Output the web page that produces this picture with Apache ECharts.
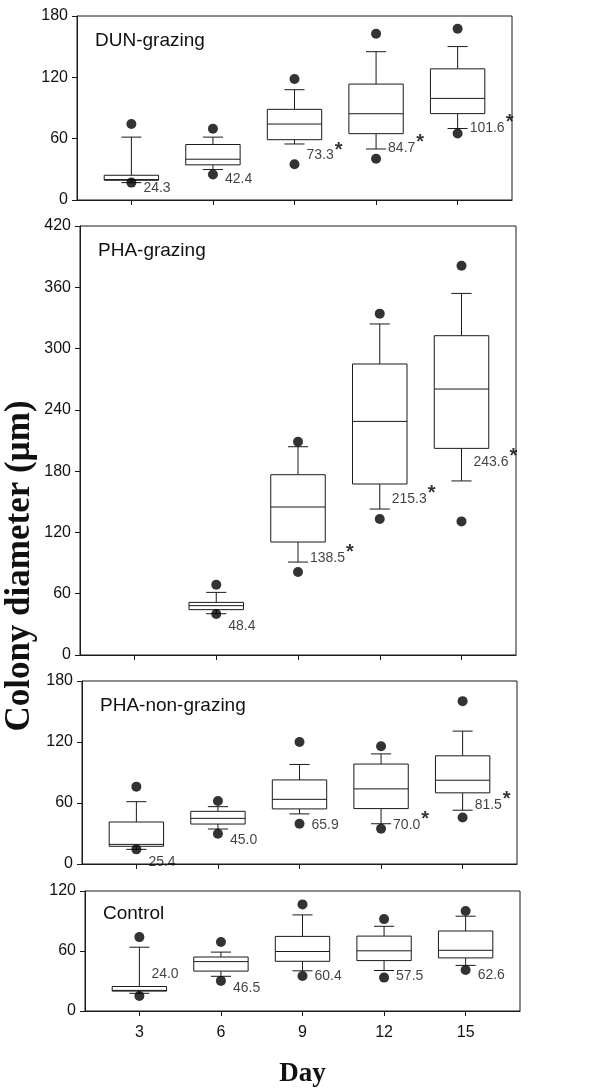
<!DOCTYPE html>
<html>
<head>
<meta charset="utf-8">
<script src="https://cdn.jsdelivr.net/npm/echarts@6/dist/echarts.min.js"></script>
<style>
  html, body { margin: 0; padding: 0; background: #fff; }
  #chart { width: 612px; height: 1089px; }
</style>
</head>
<body>
<div id="chart"></div>
<script>
// Sampling days (x categories)
const days = [3, 6, 9, 12, 15];

// DUN-grazing
const dunWhiskLo = [17.0, 29.8, 54.8, 49.9, 69.9];
const dunQ1      = [19.3, 34.4, 59.0, 64.9, 84.5];
const dunMedian  = [20.0, 39.9, 74.3, 84.4, 99.4];
const dunQ3      = [24.2, 54.3, 88.7, 113.4, 128.3];
const dunWhiskHi = [61.5, 61.5, 107.9, 145.1, 150.1];
const dunDotLo   = [17.0, 24.9, 34.9, 40.4, 65.0];
const dunDotHi   = [74.3, 69.7, 118.3, 162.7, 167.6];
const dunMean    = [24.3, 42.4, 73.3, 84.7, 101.6];
const dunSig     = [false, false, true, true, true];
const dunLabelAt = [12, 20.5, 43.5, 50.5, 70.5];

// PHA-grazing (no colonies measured on day 3)
const phaWhiskLo = [null, 40.4, 91.0, 142.9, 170.4];
const phaQ1      = [null, 44.4, 110.6, 167.4, 202.3];
const phaMedian  = [null, 48.3, 144.9, 228.7, 260.4];
const phaQ3      = [null, 51.5, 176.5, 284.9, 312.6];
const phaWhiskHi = [null, 61.3, 203.9, 324.1, 354.0];
const phaDotLo   = [null, 40.1, 81.3, 133.1, 130.8];
const phaDotHi   = [null, 68.8, 208.8, 334.2, 381.1];
const phaMean    = [null, 48.4, 138.5, 215.3, 243.6];
const phaSig     = [false, false, true, true, true];
const phaLabelAt = [null, 28, 94.5, 152.5, 189];

// PHA-non-grazing
const nonWhiskLo = [14.4, 34.4, 49.3, 39.6, 52.9];
const nonQ1      = [17.4, 39.3, 54.2, 54.5, 70.0];
const nonMedian  = [19.3, 44.9, 63.6, 73.9, 82.4];
const nonQ3      = [41.3, 51.8, 82.7, 98.3, 106.4];
const nonWhiskHi = [61.3, 56.4, 97.9, 108.3, 130.7];
const nonDotLo   = [14.4, 29.8, 39.6, 34.7, 45.7];
const nonDotHi   = [76.1, 62.0, 120.0, 115.8, 160.2];
const nonMean    = [25.4, 45.0, 65.9, 70.0, 81.5];
const nonSig     = [false, false, false, true, true];
const nonLabelAt = [2, 23, 38, 38, 58];

// Control
const ctlWhiskLo = [17.7, 34.7, 40.2, 40.5, 45.6];
const ctlQ1      = [19.9, 39.9, 49.7, 50.4, 53.1];
const ctlMedian  = [20.6, 49.4, 59.5, 60.2, 60.7];
const ctlQ3      = [24.5, 54.0, 74.6, 74.9, 80.0];
const ctlWhiskHi = [63.8, 58.9, 96.1, 84.7, 94.8];
const ctlDotLo   = [15.0, 30.1, 35.0, 33.4, 41.0];
const ctlDotHi   = [73.9, 69.0, 106.6, 91.9, 100.0];
const ctlMean    = [24.0, 46.5, 60.4, 57.5, 62.6];
const ctlSig     = [false, false, false, false, false];
const ctlLabelAt = [36.5, 23, 35, 35, 36];

const panelNames = ['DUN-grazing', 'PHA-grazing', 'PHA-non-grazing', 'Control'];
const yMax = [180, 420, 180, 120];
const yStep = 60;

const panels = [
  { lo: dunWhiskLo, q1: dunQ1, med: dunMedian, q3: dunQ3, hi: dunWhiskHi, dLo: dunDotLo, dHi: dunDotHi, mean: dunMean, sig: dunSig, at: dunLabelAt },
  { lo: phaWhiskLo, q1: phaQ1, med: phaMedian, q3: phaQ3, hi: phaWhiskHi, dLo: phaDotLo, dHi: phaDotHi, mean: phaMean, sig: phaSig, at: phaLabelAt },
  { lo: nonWhiskLo, q1: nonQ1, med: nonMedian, q3: nonQ3, hi: nonWhiskHi, dLo: nonDotLo, dHi: nonDotHi, mean: nonMean, sig: nonSig, at: nonLabelAt },
  { lo: ctlWhiskLo, q1: ctlQ1, med: ctlMedian, q3: ctlQ3, hi: ctlWhiskHi, dLo: ctlDotLo, dHi: ctlDotHi, mean: ctlMean, sig: ctlSig, at: ctlLabelAt }
];

// Plot rectangles of the four stacked panels
const grids = [
  { left: 77, top: 16,  width: 435, height: 184 },
  { left: 80, top: 226, width: 436, height: 429 },
  { left: 82, top: 681, width: 435, height: 183 },
  { left: 85, top: 891, width: 435, height: 122 }
];

const INK = '#1a1a1a';
const SANS = '"Liberation Sans", Arial, sans-serif';
const SERIF = '"Liberation Serif", "Times New Roman", serif';

function renderBox(params, api) {
  const day = api.value(0);
  const cx = api.coord([day, 0])[0];
  const yLo = api.coord([day, api.value(1)])[1];
  const yQ1 = api.coord([day, api.value(2)])[1];
  const yMed = api.coord([day, api.value(3)])[1];
  const yQ3 = api.coord([day, api.value(4)])[1];
  const yHi = api.coord([day, api.value(5)])[1];
  const unit = api.size([1, 0])[0];
  const hb = unit * 1.0;    // half box width
  const hc = unit * 0.37;   // half cap width
  const s = { stroke: INK, lineWidth: 1, fill: null };
  return {
    type: 'group',
    children: [
      { type: 'line', shape: { x1: cx, y1: yQ3, x2: cx, y2: yHi }, style: s },
      { type: 'line', shape: { x1: cx - hc, y1: yHi, x2: cx + hc, y2: yHi }, style: s },
      { type: 'line', shape: { x1: cx, y1: yQ1, x2: cx, y2: yLo }, style: s },
      { type: 'line', shape: { x1: cx - hc, y1: yLo, x2: cx + hc, y2: yLo }, style: s },
      { type: 'rect', shape: { x: cx - hb, y: yQ3, width: 2 * hb, height: yQ1 - yQ3 },
        style: { fill: '#fff', stroke: INK, lineWidth: 1 } },
      { type: 'line', shape: { x1: cx - hb, y1: yMed, x2: cx + hb, y2: yMed }, style: s }
    ]
  };
}

const option = {
  animation: false,
  backgroundColor: '#fff',
  grid: grids.map(g => Object.assign({ show: true, borderColor: INK, borderWidth: 1, backgroundColor: 'transparent' }, g)),
  xAxis: grids.map((g, i) => ({
    type: 'value',
    gridIndex: i,
    min: 1,
    max: 17,
    splitLine: { show: false },
    axisLine: { show: true, lineStyle: { color: INK, width: 1 } },
    axisTick: { show: true, inside: false, length: 5, customValues: days, lineStyle: { color: INK } },
    axisLabel: { show: i === 3, customValues: days, margin: 14, fontSize: 16, color: '#111', fontFamily: SANS },
    name: i === 3 ? 'Day' : '',
    nameLocation: 'middle',
    nameGap: 50,
    nameTextStyle: { fontSize: 27, fontWeight: 'bold', fontFamily: SERIF, color: '#111' }
  })),
  yAxis: grids.map((g, i) => ({
    type: 'value',
    gridIndex: i,
    min: 0,
    max: yMax[i],
    interval: yStep,
    splitLine: { show: false },
    axisLine: { show: true, lineStyle: { color: INK, width: 1 } },
    axisTick: { show: true, inside: false, length: 5, lineStyle: { color: INK } },
    axisLabel: { margin: 9, fontSize: 16, color: '#111', fontFamily: SANS }
  })),
  series: [],
  graphic: []
};

panels.forEach((p, i) => {
  const boxes = [];
  const dots = [];
  const labels = [];
  days.forEach((d, k) => {
    if (p.med[k] == null) return;
    boxes.push([d, p.lo[k], p.q1[k], p.med[k], p.q3[k], p.hi[k]]);
    dots.push([d, p.dLo[k]], [d, p.dHi[k]]);
    labels.push({ value: [d, p.at[k]], mean: p.mean[k], sig: p.sig[k] });
  });

  option.series.push({
    type: 'custom',
    xAxisIndex: i, yAxisIndex: i,
    renderItem: renderBox,
    encode: { x: 0, y: [1, 2, 3, 4, 5] },
    data: boxes,
    z: 2
  });
  option.series.push({
    type: 'scatter',
    xAxisIndex: i, yAxisIndex: i,
    symbol: 'circle',
    symbolSize: 10,
    itemStyle: { color: '#000' },
    data: dots,
    z: 3
  });
  option.series.push({
    type: 'scatter',
    xAxisIndex: i, yAxisIndex: i,
    symbol: 'circle',
    symbolSize: 0,
    data: labels,
    z: 4,
    label: {
      show: true,
      position: 'right',
      distance: 12,
      color: '#111',
      fontFamily: SANS,
      fontSize: 14,
      formatter: (prm) => {
        const txt = '{n|' + prm.data.mean.toFixed(1) + '}';
        return prm.data.sig ? txt + '{s|*}' : txt;
      },
      rich: {
        n: { fontSize: 14, fontFamily: SANS, color: '#111' },
        s: { fontSize: 20, fontWeight: 'bold', fontFamily: SANS, color: '#000', padding: [0, 0, 11, 1] }
      }
    }
  });

  option.graphic.push({
    type: 'text',
    left: grids[i].left + 18,
    top: grids[i].top + (i === 3 ? 13 : 15),
    style: { text: panelNames[i], fontSize: 19, fontFamily: SANS, fill: '#111' }
  });
});

option.graphic.push({
  type: 'text',
  x: 20,
  y: 566,
  rotation: Math.PI / 2,
  style: {
    text: 'Colony diameter (µm)',
    fontSize: 35,
    fontWeight: 'bold',
    fontFamily: SERIF,
    fill: '#111',
    textAlign: 'center',
    textVerticalAlign: 'middle'
  }
});

const chart = echarts.init(document.getElementById('chart'), null, { renderer: 'canvas' });
chart.setOption(option);
</script>
</body>
</html>
